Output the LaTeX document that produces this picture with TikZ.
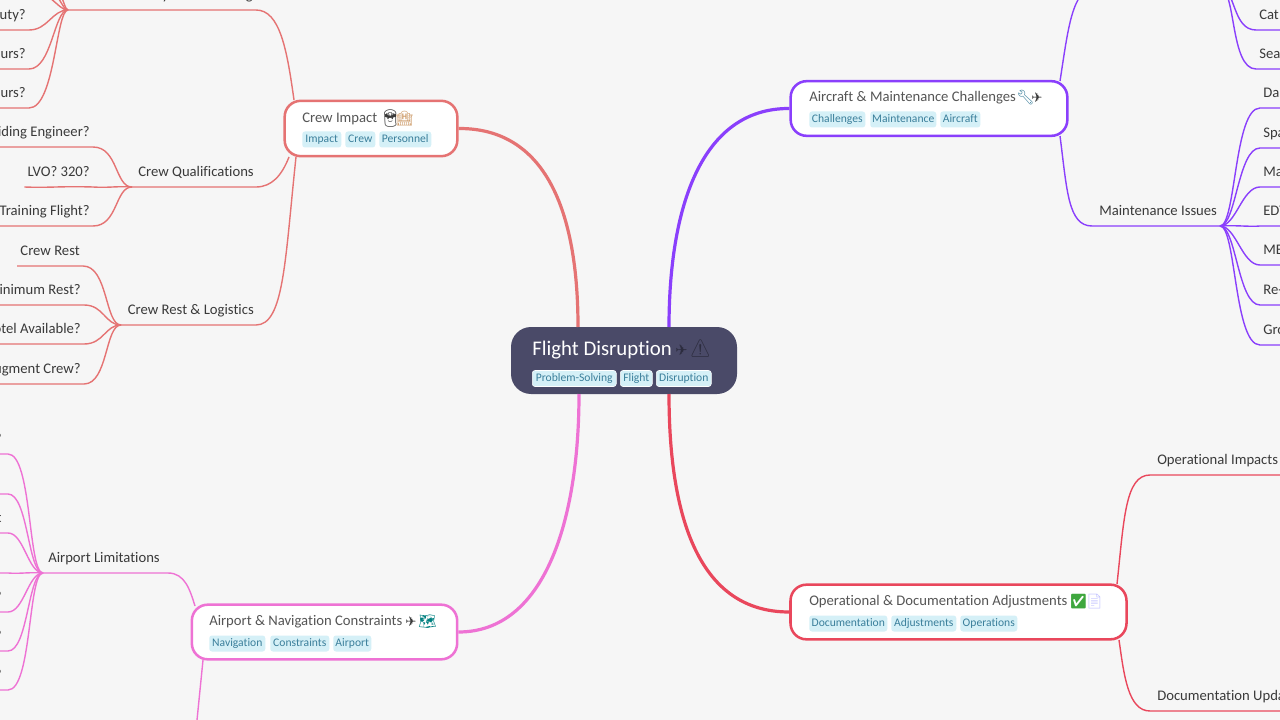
\documentclass[tikz,border=0pt]{standalone}
\usepackage{fontspec}
\setmainfont{Carlito}[Ligatures=CommonOff]
\newfontfamily\emojifont{Noto Emoji}
\newfontfamily\planefont{DejaVu Sans}
\definecolor{pagebg}{HTML}{F6F6F6}
\definecolor{rootfill}{HTML}{4A4A68}
\definecolor{crewred}{HTML}{E57373}
\definecolor{craftviolet}{HTML}{8A3FFC}
\definecolor{opsred}{HTML}{E9475C}
\definecolor{portpink}{HTML}{EE72D4}
\definecolor{tagfill}{HTML}{D5F0F7}
\definecolor{tagtext}{HTML}{3B7F9B}
\definecolor{bodytext}{HTML}{3A3A3A}
\definecolor{cardtext}{HTML}{555555}
\tikzset{
  card/.style={draw=#1, line width=1.9pt, fill=white, rounded corners=12pt, inner sep=0pt},
  tag/.style={fill=tagfill, text=tagtext, rounded corners=2pt, inner sep=0pt, minimum width=#1*0.75pt,
    minimum height=12pt, text height=6.2pt, text depth=1.8pt, font=\fontsize{8.7}{10}\selectfont, anchor=west},
  roottag/.style={tag=#1, draw=white, line width=0.4pt},
  cardtitle/.style={text=cardtext, inner sep=0pt, anchor=west, font=\fontsize{11}{13}\selectfont},
  glyph/.style={inner sep=0pt, anchor=west, font=\emojifont\fontsize{10.8}{12}\selectfont},
  plane/.style={inner sep=0pt, anchor=west, font=\planefont\fontsize{10}{12}\selectfont},
  subtitle/.style={text=bodytext, inner xsep=2.25pt, inner ysep=7.6pt, text depth=0pt, font=\fontsize{11}{13}\selectfont},
  leftleaf/.style={subtitle, anchor=south east, text width=#1, align=flush right},
  rightleaf/.style={subtitle, anchor=south west, text width=#1, align=flush left},
  cutleaf/.style={leftleaf=120pt, inner xsep=4.6pt},
  trunk/.style={draw=#1, line width=2.4pt},
  twig/.style={draw=#1, line width=1.05pt},
}
\begin{document}
\begin{tikzpicture}[x=0.75pt, y=-0.75pt]
\useasboundingbox (0,0) rectangle (1280,720);
\clip (0,0) rectangle (1280,720);
\fill [pagebg] (0,0) rectangle (1280,720);

% centre
\node [fill=rootfill, rounded corners=15pt, minimum width=169.5pt, minimum height=50.25pt, inner sep=0pt] (root) at (624,360.5) {};
\node [cardtitle, text=white, font=\fontsize{15.6}{18}\selectfont] (roottitle) at (532,350) {Flight Disruption};
\node [plane, text=rootfill!60!black, font=\planefont\fontsize{11}{12}\selectfont] (rootplane) at (675,350) {✈};
\node [glyph, text=rootfill!60!black, font=\emojifont\fontsize{13}{12}\selectfont] (rootwarn) at (689,349) {⚠};
\node [roottag=84] (roottag1) at (532,378.5) {Problem-Solving};
\node [roottag=32] (roottag2) at (620,378.5) {Flight};
\node [roottag=55] (roottag3) at (656,378.5) {Disruption};
\coordinate (rootnw) at (578,327);
\coordinate (rootne) at (669,327);
\coordinate (rootsw) at (579,394);
\coordinate (rootse) at (669,394);

% cards
\node [card=crewred, minimum width=129.5pt, minimum height=41.5pt] (crew) at (371,128.5) {};
\node [cardtitle] (crewtitle) at (302,119) {Crew Impact};
\node [glyph, text=bodytext, font=\emojifont\fontsize{13}{12}\selectfont] (crewpilot) at (379,119) {👨‍✈};
\node [glyph, text=brown!80!white] (crewhotel) at (395,119) {🏨};
\node [tag=39] (crewtag1) at (302,139.5) {Impact};
\node [tag=30] (crewtag2) at (345,139.5) {Crew};
\node [tag=52] (crewtag3) at (379,139.5) {Personnel};

\node [card=portpink, minimum width=199pt, minimum height=41pt] (port) at (324.5,632) {};
\node [cardtitle] (porttitle) at (209,622) {Airport \& Navigation Constraints};
\node [plane, text=bodytext] (portplane) at (405,622) {✈};
\node [glyph, text=teal] (portmap) at (418,622) {🗺};
\node [tag=56] (porttag1) at (209,643.5) {Navigation};
\node [tag=59] (porttag2) at (270,643.5) {Constraints};
\node [tag=38] (porttag3) at (333,643.5) {Airport};

\node [card=craftviolet, minimum width=207.5pt, minimum height=41pt] (craft) at (929,108.5) {};
\node [cardtitle] (crafttitle) at (809,98) {Aircraft \& Maintenance Challenges};
\node [glyph, text=tagtext] (craftwrench) at (1016,98) {🔧};
\node [plane, text=bodytext] (craftplane) at (1031,98) {✈};
\node [tag=56] (crafttag1) at (809,119.5) {Challenges};
\node [tag=66] (crafttag2) at (870,119.5) {Maintenance};
\node [tag=40] (crafttag3) at (940,119.5) {Aircraft};

\node [card=opsred, minimum width=252pt, minimum height=41pt] (ops) at (958.5,612) {};
\node [cardtitle] (opstitle) at (809,602) {Operational \& Documentation Adjustments};
\node [glyph, text=green!45!gray!90!black] (opscheck) at (1069,602) {✅};
\node [glyph, text=blue!25!white] (opsdoc) at (1085,602) {📄};
\node [tag=78] (opstag1) at (809,623.5) {Documentation};
\node [tag=65] (opstag2) at (891,623.5) {Adjustments};
\node [tag=57] (opstag3) at (960,623.5) {Operations};

% main branches
\draw [trunk=crewred] (rootnw) .. controls (578,210) and (545,128) .. (crew.east);
\draw [trunk=craftviolet] (rootne) .. controls (669,210) and (700,108) .. (craft.west);
\draw [trunk=portpink] (rootsw) .. controls (579,520) and (545,632) .. (port.east);
\draw [trunk=opsred] (rootse) .. controls (669,520) and (700,612) .. (ops.west);

% crew side
\coordinate (dutyhub) at (68,10);
\coordinate (qualhub) at (132,187);
\coordinate (resthub) at (121,325);
\coordinate (crewa) at (294,100);
\coordinate (crewb) at (289,157);
\coordinate (crewc) at (296,157);
\node [subtitle, anchor=south east] (dutyg) at (256,10) {g};
\node [subtitle, anchor=south east] (dutyy) at (172,10) {y};
\node [leftleaf=120pt] (dutya) at (29,30) {uty?};
\node [leftleaf=120pt] (dutyb) at (29,69) {urs?};
\node [leftleaf=120pt] (dutyc) at (29,108) {urs?};
\coordinate (dutyd) at (-10,-30);
\coordinate (dutye) at (-10,-70);
\coordinate (dutyf) at (-10,-110);
\node [subtitle, anchor=south east, inner xsep=0pt] (qualname) at (254,187) {Crew Qualifications};
\node [leftleaf=120pt] (quala) at (93,147) {iding Engineer?};
\node [subtitle, anchor=south east] (qualb) at (93,187) {LVO? 320?};
\node [leftleaf=120pt] (qualc) at (93,226) {Training Flight?};
\node [subtitle, anchor=south east, inner xsep=0pt] (restname) at (254,325) {Crew Rest \& Logistics};
\node [subtitle, anchor=south east] (resta) at (83,266) {Crew Rest};
\node [leftleaf=120pt] (restb) at (84,305) {inimum Rest?};
\node [leftleaf=120pt] (restc) at (84,344) {otel Available?};
\node [leftleaf=120pt] (restd) at (84,384) {ugment Crew?};

\draw [twig=crewred] (crewa) .. controls (287,50) and (280,10) .. (256,10) -- (dutyhub);
\draw [twig=crewred] (crewb) .. controls (282,175) and (272,187) .. (256,187) -- (qualhub);
\draw [twig=crewred] (crewc) .. controls (285,260) and (284,325) .. (256,325) -- (resthub);
\draw [twig=crewred] (dutyhub) .. controls (52,10) and (48,30) .. (dutya.south east) -- (dutya.south west);
\draw [twig=crewred] (dutyhub) .. controls (54,10) and (52,69) .. (dutyb.south east) -- (dutyb.south west);
\draw [twig=crewred] (dutyhub) .. controls (56,10) and (55,108) .. (dutyc.south east) -- (dutyc.south west);
\draw [twig=crewred] (dutyhub) .. controls (56,10) and (56,-10) .. (dutyd);
\draw [twig=crewred] (dutyhub) .. controls (60,10) and (60,-20) .. (dutye);
\draw [twig=crewred] (dutyhub) .. controls (62,10) and (64,-30) .. (dutyf);
\draw [twig=crewred] (qualhub) .. controls (115,187) and (118,147) .. (quala.south east) -- (quala.south west);
\draw [twig=crewred] (qualhub) .. controls (115,186) and (110,188) .. (qualb.south east) .. controls (60,186) and (50,188) .. (qualb.south west);
\draw [twig=crewred] (qualhub) .. controls (115,187) and (118,226) .. (qualc.south east) -- (qualc.south west);
\draw [twig=crewred] (resthub) .. controls (105,325) and (108,266) .. (resta.south east) -- (resta.south west);
\draw [twig=crewred] (resthub) .. controls (105,325) and (104,305) .. (restb.south east) -- (restb.south west);
\draw [twig=crewred] (resthub) .. controls (105,325) and (104,344) .. (restc.south east) -- (restc.south west);
\draw [twig=crewred] (resthub) .. controls (105,325) and (108,384) .. (restd.south east) -- (restd.south west);

% airport side
\coordinate (limithub) at (43,573);
\coordinate (porta) at (195,606);
\coordinate (portb) at (203,660);
\coordinate (portc) at (195,740);
\node [subtitle, anchor=south east, inner xsep=0pt] (limitname) at (160,573) {Airport Limitations};
\node [cutleaf] (limita) at (8,454) {?};
\node [cutleaf] (limitb) at (8,494) {};
\node [cutleaf] (limitc) at (8,533) {t};
\node [cutleaf] (limitd) at (8,573) {};
\node [cutleaf] (limite) at (8,612) {?};
\node [cutleaf] (limitf) at (8,651) {?};
\node [cutleaf] (limitg) at (8,690) {?};

\draw [twig=portpink] (porta) .. controls (190,590) and (185,573) .. (168,573) -- (limithub);
\draw [twig=portpink] (portb) -- (portc);
\draw [twig=portpink] (limithub) .. controls (28,573) and (32,454) .. (limita.south east) -- (limita.south west);
\draw [twig=portpink] (limithub) .. controls (28,573) and (28,494) .. (limitb.south east) -- (limitb.south west);
\draw [twig=portpink] (limithub) .. controls (28,573) and (24,533) .. (limitc.south east) -- (limitc.south west);
\draw [twig=portpink] (limithub) .. controls (28,572) and (20,574) .. (limitd.south east) -- (limitd.south west);
\draw [twig=portpink] (limithub) .. controls (28,573) and (24,612) .. (limite.south east) -- (limite.south west);
\draw [twig=portpink] (limithub) .. controls (28,573) and (28,651) .. (limitf.south east) -- (limitf.south west);
\draw [twig=portpink] (limithub) .. controls (28,573) and (32,690) .. (limitg.south east) -- (limitg.south west);

% aircraft side
\coordinate (seathub) at (1220,-12);
\coordinate (fixhub) at (1220,226);
\coordinate (crafta) at (1060,81);
\coordinate (craftb) at (1060,136);
\node [subtitle, anchor=south west, inner xsep=0pt] (fixname) at (1099,226) {Maintenance Issues};
\node [rightleaf=60pt] (seata) at (1256,30) {Cat};
\node [rightleaf=60pt] (seatb) at (1256,69) {Sea};
\node [rightleaf=60pt] (fixa) at (1260,108) {Da};
\node [rightleaf=60pt] (fixb) at (1260,148) {Spa};
\node [rightleaf=60pt] (fixc) at (1260,187) {Ma};
\node [rightleaf=60pt] (fixd) at (1260,226) {EDT};
\node [rightleaf=60pt] (fixe) at (1260,265) {ME};
\node [rightleaf=60pt] (fixf) at (1260,305) {Re-};
\node [rightleaf=60pt] (fixg) at (1260,345) {Gro};

\draw [twig=craftviolet] (crafta) .. controls (1068,30) and (1072,-12) .. (1095,-12) -- (seathub);
\draw [twig=craftviolet] (craftb) .. controls (1067,190) and (1068,226) .. (1092,226) -- (fixhub);
\draw [twig=craftviolet] (seathub) .. controls (1236,-12) and (1232,30) .. (seata.south west) -- (seata.south east);
\draw [twig=craftviolet] (seathub) .. controls (1236,-12) and (1230,69) .. (seatb.south west) -- (seatb.south east);
\draw [twig=craftviolet] (fixhub) .. controls (1236,226) and (1234,108) .. (fixa.south west) -- (fixa.south east);
\draw [twig=craftviolet] (fixhub) .. controls (1236,226) and (1238,148) .. (fixb.south west) -- (fixb.south east);
\draw [twig=craftviolet] (fixhub) .. controls (1236,226) and (1242,187) .. (fixc.south west) -- (fixc.south east);
\draw [twig=craftviolet] (fixhub) .. controls (1236,225) and (1250,227) .. (fixd.south west) -- (fixd.south east);
\draw [twig=craftviolet] (fixhub) .. controls (1236,226) and (1242,265) .. (fixe.south west) -- (fixe.south east);
\draw [twig=craftviolet] (fixhub) .. controls (1236,226) and (1238,305) .. (fixf.south west) -- (fixf.south east);
\draw [twig=craftviolet] (fixhub) .. controls (1236,226) and (1234,345) .. (fixg.south west) -- (fixg.south east);

% operations side
\coordinate (opsa) at (1117,584);
\coordinate (opsb) at (1119,640);
\node [rightleaf=120pt, inner xsep=0pt] (opsup) at (1157,475) {Operational Impacts};
\node [rightleaf=120pt, inner xsep=0pt] (opsdown) at (1157,711) {Documentation Upda};
\coordinate (opsupline) at (1300,475);
\coordinate (opsdownline) at (1300,711);
\draw [twig=opsred] (opsa) .. controls (1124,520) and (1125,475) .. (1150,475) -- (opsupline);
\draw [twig=opsred] (opsb) .. controls (1124,675) and (1128,711) .. (1150,711) -- (opsdownline);
\end{tikzpicture}
\end{document}
